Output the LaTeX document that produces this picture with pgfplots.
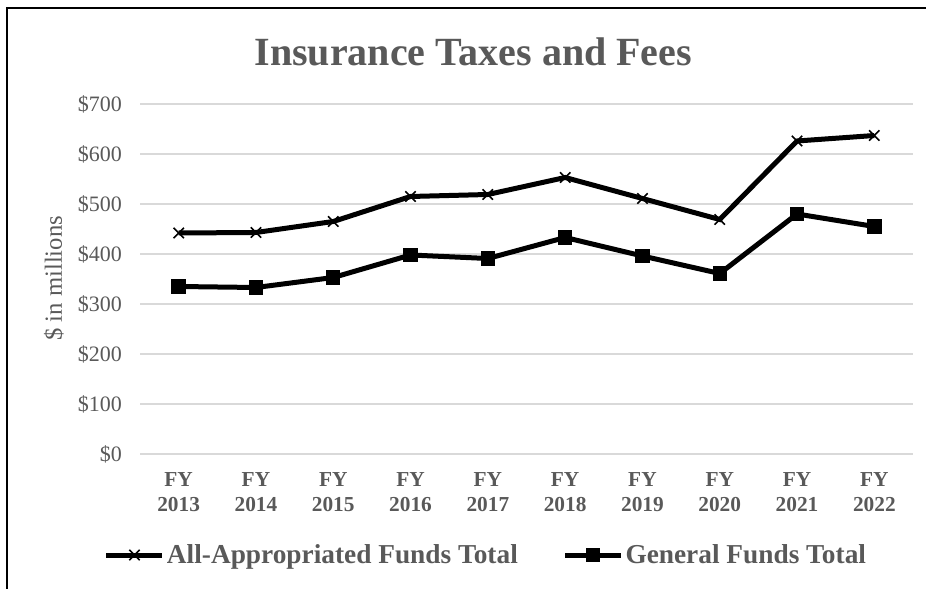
\documentclass[border=0pt]{standalone}
\usepackage{fontspec}
\setmainfont{Liberation Serif}
\usepackage{pgfplots}
\pgfplotsset{compat=1.18}
\definecolor{txt}{HTML}{595959}
\definecolor{grd}{HTML}{D9D9D9}

\begin{document}
\begin{tikzpicture}
% page is 926x589 px, 1px = 0.75pt
\useasboundingbox (0,0) rectangle (694.5pt,441.75pt);
\draw[line width=1.5pt] (5.25pt,0pt) -- (5.25pt,435.75pt) -- (694.5pt,435.75pt);

\node[text=txt, font=\bfseries\fontsize{30}{36}\selectfont] at (355pt,402.75pt) {Insurance Taxes and Fees};
\node[text=txt, rotate=90, font=\fontsize{18.5}{22}\selectfont] at (40.5pt,233pt) {\$ in millions};

\begin{axis}[
  at={(105pt,101.25pt)}, anchor=south west,
  scale only axis, width=579.75pt, height=262.5pt,
  xmin=-0.5, xmax=9.5, ymin=0, ymax=700,
  axis line style={draw=none}, tick style={draw=none},
  ymajorgrids, grid style={grd, line width=1.1pt},
  ytick={0,100,...,700},
  yticklabels={\$0,\$100,\$200,\$300,\$400,\$500,\$600,\$700},
  yticklabel style={text=txt, font=\fontsize{16.5}{20}\selectfont, xshift=-10pt},
  xtick={0,...,9},
  xticklabels={{FY\\2013},{FY\\2014},{FY\\2015},{FY\\2016},{FY\\2017},{FY\\2018},{FY\\2019},{FY\\2020},{FY\\2021},{FY\\2022}},
  xticklabel style={text=txt, align=center, font=\bfseries\fontsize{16}{19}\selectfont, yshift=-10pt},
  legend columns=2,
  legend style={at={(0.4476,-0.2886)}, anchor=center, draw=none, fill=none,
    font=\bfseries\fontsize{20.5}{24}\selectfont, text=txt,
    /tikz/every even column/.append style={column sep=32pt},
    nodes={inner xsep=1.5pt}},
  legend image code/.code={\draw[#1, mark repeat=2, mark phase=2] plot coordinates {(0pt,0pt) (21pt,0pt) (42pt,0pt)};},
]
\addplot[black, line width=3.75pt, mark=x, mark size=5.5pt, mark options={line width=1.2pt}] coordinates {
 (0,442) (1,443) (2,465) (3,515) (4,519) (5,553) (6,511) (7,469) (8,626) (9,637)};
\addlegendentry{All-Appropriated Funds Total}
\addplot[black, line width=3.75pt, mark=square*, mark size=5pt, mark options={line width=0pt}] coordinates {
 (0,335) (1,333) (2,353) (3,398) (4,391) (5,433) (6,396) (7,361) (8,480) (9,455)};
\addlegendentry{General Funds Total}
\end{axis}
\end{tikzpicture}
\end{document}
